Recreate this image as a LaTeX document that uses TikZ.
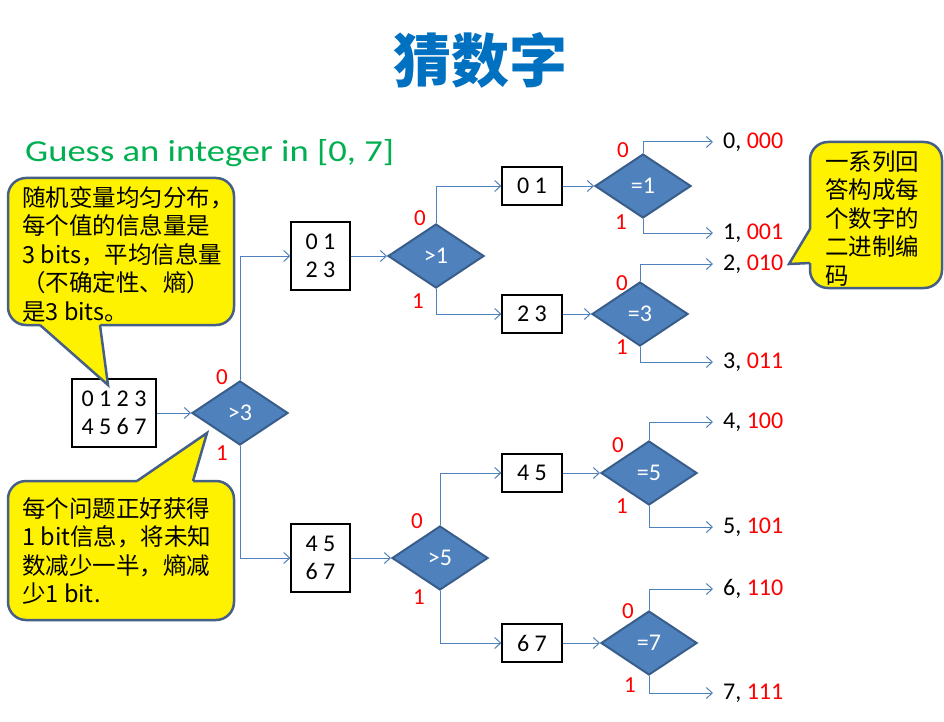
\documentclass[tikz,border=0pt]{standalone}
\usepackage{fontspec}
\setmainfont{Carlito}
\newfontfamily\cjk{Noto Sans CJK SC}
\newfontfamily\guessfont[FakeStretch=1.2]{Carlito}
\usetikzlibrary{arrows.meta,positioning,shapes.geometric}
\definecolor{titleblue}{RGB}{0,112,192}
\definecolor{guessgreen}{RGB}{0,176,80}
\definecolor{linkblue}{RGB}{79,129,189}
\definecolor{diamondedge}{RGB}{56,93,138}
\definecolor{calloutedge}{RGB}{70,95,135}
\tikzset{
  numbox/.style={
    rectangle,
    draw=black,
    line width=1.2pt,
    fill=white,
    align=left,
    inner xsep=8pt,
    inner ysep=0pt,
    font=\fontsize{24}{28}\selectfont
  },
  test/.style={
    diamond,
    draw=diamondedge,
    line width=2pt,
    fill=linkblue,
    text=white,
    minimum width=96pt,
    minimum height=64pt,
    inner sep=0pt,
    font=\fontsize{24}{28}\selectfont
  },
  bitlabel/.style={text=red, inner sep=0pt, font=\fontsize{23}{27}\selectfont},
  leaf/.style={anchor=west, inner xsep=10pt, inner ysep=0pt, font=\fontsize{24}{28}\selectfont},
  note/.style={align=left, anchor=west, inner sep=0pt, font=\cjk\fontsize{23.5}{28.5}\selectfont},
  notebg/.style={fill=yellow, draw=calloutedge, line width=2.5pt, rounded corners=18pt},
  noteedge/.style={draw=calloutedge, line width=2.5pt},
  link/.style={-{Straight Barb[length=6pt,width=11pt]}, draw=linkblue, line width=1pt}
}
\begin{document}
\begin{tikzpicture}[x=1pt,y=-1pt]
  \useasboundingbox[fill=white] (0,0) rectangle (944,722);
  \node[font=\cjk\bfseries\fontsize{58}{64}\selectfont, text=titleblue] (title) at (480,60) {猜数字};
  \node[anchor=base west, inner sep=0pt, text=guessgreen, font=\guessfont\fontsize{30.5}{36}\selectfont] (guess) at (25,161) {Guess an integer in [0, 7]};

  % boxes and tests
  \node[numbox, minimum width=84pt, minimum height=68pt] (all) at (114,413) {0 1 2 3\\4 5 6 7};
  \node[test] (gt3) at (240,413) {>3};
  \node[numbox, minimum width=59pt, minimum height=68pt] (low) at (320.5,256) {0 1\\2 3};
  \node[numbox, minimum width=59pt, minimum height=68pt] (high) at (320.5,558) {4 5\\6 7};
  \node[test] (gt1) at (436,256) {>1};
  \node[test] (gt5) at (440,558) {>5};
  \node[numbox, minimum width=60pt, minimum height=38pt] (p01) at (532,186) {0 1};
  \node[numbox, minimum width=60pt, minimum height=38pt] (p23) at (532,314) {2 3};
  \node[numbox, minimum width=60pt, minimum height=38pt] (p45) at (532,473) {4 5};
  \node[numbox, minimum width=60pt, minimum height=38pt] (p67) at (532,643) {6 7};
  \node[test] (eq1) at (643,186) {=1};
  \node[test] (eq3) at (640,314) {=3};
  \node[test] (eq5) at (649,473) {=5};
  \node[test] (eq7) at (649,643) {=7};

  % results
  \node[leaf] (r0) at (713,142) {0, \textcolor{red}{000}};
  \node[leaf] (r1) at (713,233) {1, \textcolor{red}{001}};
  \node[leaf] (r2) at (713,264) {2, \textcolor{red}{010}};
  \node[leaf] (r3) at (713,362) {3, \textcolor{red}{011}};
  \node[leaf] (r4) at (713,422) {4, \textcolor{red}{100}};
  \node[leaf] (r5) at (713,527) {5, \textcolor{red}{101}};
  \node[leaf] (r6) at (713,589) {6, \textcolor{red}{110}};
  \node[leaf] (r7) at (713,693) {7, \textcolor{red}{111}};

  % connectors
  \draw[link] (all.east) -- (gt3.west);
  \draw[link] (gt3.north) |- (low.west);
  \draw[link] (gt3.south) |- (high.west);
  \draw[link] (low.east) -- (gt1.west);
  \draw[link] (high.east) -- (gt5.west);
  \draw[link] (gt1.north) |- (p01.west);
  \draw[link] (gt1.south) |- (p23.west);
  \draw[link] (gt5.north) |- (p45.west);
  \draw[link] (gt5.south) |- (p67.west);
  \draw[link] (p01.east) -- (eq1.west);
  \draw[link] (p23.east) -- (eq3.west);
  \draw[link] (p45.east) -- (eq5.west);
  \draw[link] (p67.east) -- (eq7.west);
  \draw[link] (eq1.north) |- (r0.west);
  \draw[link] (eq1.south) |- (r1.west);
  \draw[link] (eq3.north) |- (r2.west);
  \draw[link] (eq3.south) |- (r3.west);
  \draw[link] (eq5.north) |- (r4.west);
  \draw[link] (eq5.south) |- (r5.west);
  \draw[link] (eq7.north) |- (r6.west);
  \draw[link] (eq7.south) |- (r7.west);

  % 0/1 answers
  \node[bitlabel] (a3) at (222,377) {0};
  \node[bitlabel] (b3) at (222,453) {1};
  \node[bitlabel] (a1) at (420,218) {0};
  \node[bitlabel] (b1) at (418,301) {1};
  \node[bitlabel] (a5) at (417,521) {0};
  \node[bitlabel] (b5) at (419,597) {1};
  \node[bitlabel] (ae1) at (623,150) {0};
  \node[bitlabel] (be1) at (621,222) {1};
  \node[bitlabel] (ae3) at (622,283) {0};
  \node[bitlabel] (be3) at (622,347) {1};
  \node[bitlabel] (ae5) at (618,445) {0};
  \node[bitlabel] (be5) at (622,506) {1};
  \node[bitlabel] (ae7) at (628,611) {0};
  \node[bitlabel] (be7) at (630,685) {1};

  % callouts
  \coordinate (tipA) at (108,385);
  \coordinate (tipB) at (207,433);
  \coordinate (tipC) at (789,264);
  \draw[notebg] (8,178) rectangle (234,325);
  \fill[yellow] (40,320) -- (40,325) -- (tipA) -- (100,325) -- (100,320) -- cycle;
  \draw[noteedge] (40,325) -- (tipA) -- (100,325);
  \node[note] (noteA) at (22,254) {随机变量均匀分布，\\每个值的信息量是\\3 bits，平均信息量\\（不确定性、熵）\\是3 bits。};

  \draw[notebg] (8,481) rectangle (234,620);
  \fill[yellow] (137,486) -- (137,481) -- (tipB) -- (193,481) -- (193,486) -- cycle;
  \draw[noteedge] (137,481) -- (tipB) -- (193,481);
  \node[note] (noteB) at (22,551) {每个问题正好获得\\1 bit信息，将未知\\数减少一半，熵减\\少1 bit.};

  \draw[notebg] (810,142) rectangle (942,288);
  \fill[yellow] (815,229) -- (810,229) -- (tipC) -- (810,263) -- (815,263) -- cycle;
  \draw[noteedge] (810,229) -- (tipC) -- (810,263);
  \node[note] (noteC) at (825,218.5) {一系列回\\答构成每\\个数字的\\二进制编\\码};
\end{tikzpicture}
\end{document}
